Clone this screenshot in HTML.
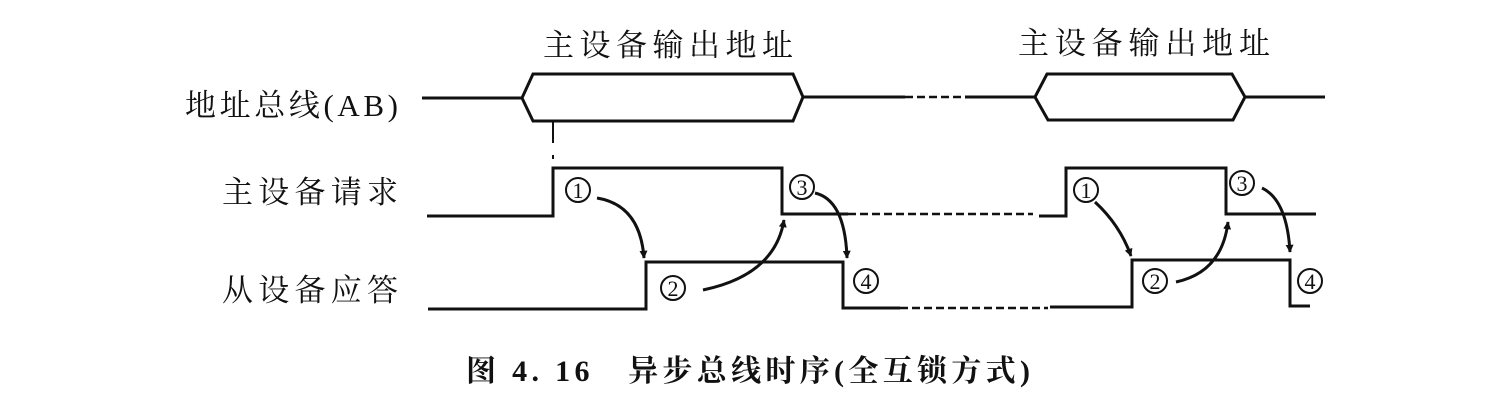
<!DOCTYPE html>
<html><head><meta charset="utf-8"><style>
html,body{margin:0;padding:0;background:#fff;}
svg{display:block;}
text{font-family:"Liberation Serif","Noto Serif CJK SC","Noto Sans CJK SC",serif;fill:#111;}
</style></head><body>
<svg width="1499" height="405" viewBox="0 0 1499 405" xmlns="http://www.w3.org/2000/svg">
<defs>
<marker id="ah" viewBox="0 0 10 10" refX="9" refY="5" markerWidth="8" markerHeight="8" orient="auto" markerUnits="userSpaceOnUse">
<path d="M0,0 L10,5 L0,10 z" fill="#111"/></marker>
</defs>
<rect width="1499" height="405" fill="#fff"/>
<g stroke="#111" stroke-width="3" fill="none">
<path d="M422,98 H522 L533,74 H793 L803,97 L793,121 H533 L522,98"/>
<path d="M803,97 H905"/>
<path d="M905,97 H965" stroke-dasharray="8,4" stroke-width="2.5"/>
<path d="M965,97 H1035 L1047,74 H1232 L1245,97 L1233,120 H1048 L1035,97"/>
<path d="M1245,97 H1325"/>
<path d="M553,122 V143" stroke-width="2"/>
<path d="M553,155 V159" stroke-width="2"/>
<path d="M427,216 H553 V168 H782 V214 H848"/>
<path d="M848,214 H1033" stroke-dasharray="8,4" stroke-width="2.5"/>
<path d="M1039,216 H1066 V168 H1226 V214 H1316"/>
<path d="M428,309 H646 V262 H843 V308 H900"/>
<path d="M900,308 H1048" stroke-dasharray="8,4" stroke-width="2.5"/>
<path d="M1050,307 H1132 V260 H1290 V306 H1310"/>
<path d="M597,198 Q640,205 644,258" marker-end="url(#ah)"/>
<path d="M703,290 Q775,275 784,220" marker-end="url(#ah)"/>
<path d="M815,193 Q845,200 847,258" marker-end="url(#ah)"/>
<path d="M1095,202 Q1120,225 1131,256" marker-end="url(#ah)"/>
<path d="M1176,282 Q1222,272 1228,222" marker-end="url(#ah)"/>
<path d="M1262,188 Q1287,200 1290,252" marker-end="url(#ah)"/>
</g>
<g stroke="#111" stroke-width="2" fill="#fff">
<circle cx="578" cy="190" r="12"/><circle cx="673" cy="288" r="12"/>
<circle cx="802" cy="187" r="12"/><circle cx="866" cy="281" r="12"/>
<circle cx="1086" cy="190" r="12"/><circle cx="1155" cy="281" r="12"/>
<circle cx="1242" cy="183" r="12"/><circle cx="1310" cy="281" r="12"/>
</g>
<g font-size="22" text-anchor="middle">
<text x="578" y="198">1</text><text x="673" y="296">2</text>
<text x="802" y="195">3</text><text x="866" y="289">4</text>
<text x="1086" y="198">1</text><text x="1155" y="289">2</text>
<text x="1242" y="191">3</text><text x="1310" y="289">4</text>
</g>
<g font-size="31">
<text x="543" y="56" textLength="250">主设备输出地址</text>
<text x="1018" y="54" textLength="252">主设备输出地址</text>
<text x="185" y="116" textLength="213">地址总线(AB)</text>
<text x="222" y="203" textLength="176">主设备请求</text>
<text x="222" y="301" textLength="176">从设备应答</text>
</g>
<text x="466" y="381" font-size="30" font-weight="bold" textLength="564">图 4. 16　异步总线时序(全互锁方式)</text>
</svg>
</body></html>
